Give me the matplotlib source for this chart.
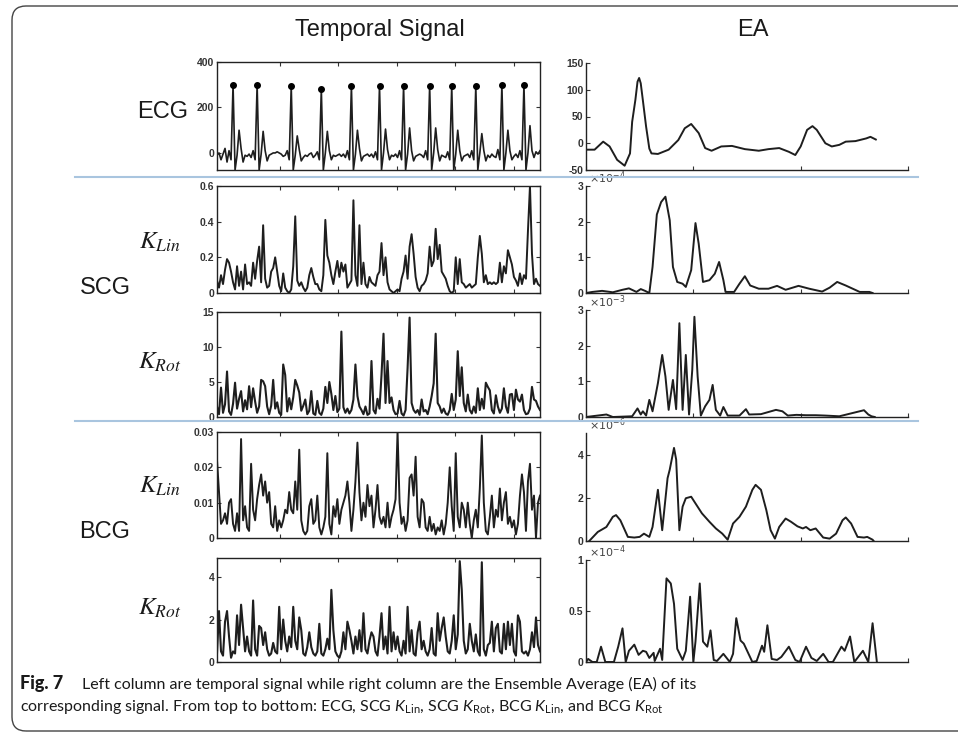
import matplotlib
matplotlib.use("Agg")
import matplotlib.pyplot as plt
import numpy as np
from matplotlib.patches import FancyBboxPatch
from matplotlib.lines import Line2D
from matplotlib.ticker import FormatStrFormatter

plt.rcParams['font.family'] = ['Liberation Sans', 'DejaVu Sans']
plt.rcParams['mathtext.fontset'] = 'custom'
plt.rcParams['mathtext.rm'] = 'Lato'
plt.rcParams['mathtext.it'] = 'Lato:italic'

# ---- temporal signals (uniform samples) ----
ecg = [-10, 0, -30, -5, 20, -40, 10, -30,
       300, -75, -10, 100, 20, -40, -10, -15, -5, -20, 10, -30,
       300, -75, -5, 95, 10, -35, -10, -5, 0, 0, 5, 0, -5, -15, -10, 10, -30,
       295, -75, -10, 75, 15, -35, -20, -10, -15, -5, 0, -20, -10, 5, -30,
       280, -75, 0, 95, 10, -30, -10, -15, -10, -5, -15, -5, -20, 10, -30,
       295, -75, -5, 100, 20, -35, -15, -10, -5, -15, -5, -20, 5, -30,
       295, -75, 0, 105, 15, -30, -10, -15, -5, -20, 10, -30,
       295, -75, -5, 110, 10, -35, -15, -10, -5, -10, -20, 10, -30,
       295, -75, 0, 110, 15, -35, -10, -15, -20, 5, -30,
       295, -75, -5, 100, 10, -35, -15, -10, -5, -20, 10, -30,
       295, -75, 0, 85, 10, -35, -10, -20, -5, -15, -20, 15, -30,
       300, -75, 0, 100, 10, -30, -15, -5, -20, 10, -30,
       300, -75, 0, 120, 10, -20, 5, -5, 10]
ecg_r_peaks = [8, 20, 37, 52, 67, 81, 93, 106, 117, 129, 142, 153]

scg_lin = [0.07, 0.03, 0.10, 0.05, 0.13, 0.19, 0.17, 0.12, 0.06, 0.02,
           0.15, 0.04, 0.12, 0.02, 0.16, 0.05, 0.06, 0.04, 0.17, 0.08,
           0.18, 0.26, 0.06, 0.38, 0.08, 0.03, 0.04, 0.12, 0.14, 0.20,
           0.12, 0.04, 0.01, 0.11, 0.03, 0.01, 0.00, 0.02, 0.15, 0.43,
           0.07, 0.04, 0.06, 0.03, 0.01, 0.03, 0.10, 0.14, 0.09, 0.05,
           0.05, 0.02, 0.01, 0.10, 0.41, 0.21, 0.17, 0.10, 0.05, 0.12,
           0.18, 0.09, 0.17, 0.12, 0.16, 0.03, 0.05, 0.07, 0.52, 0.10,
           0.04, 0.38, 0.05, 0.17, 0.05, 0.03, 0.09, 0.06, 0.05, 0.04,
           0.10, 0.12, 0.28, 0.10, 0.20, 0.06, 0.02, 0.01, 0.00, 0.01,
           0.02, 0.01, 0.08, 0.12, 0.21, 0.08, 0.26, 0.33, 0.22, 0.09,
           0.03, 0.01, 0.04, 0.05, 0.07, 0.11, 0.26, 0.15, 0.18, 0.36,
           0.19, 0.27, 0.12, 0.10, 0.08, 0.04, 0.01, 0.00, 0.01, 0.20,
           0.05, 0.19, 0.06, 0.05, 0.03, 0.04, 0.05, 0.03, 0.04, 0.05,
           0.20, 0.32, 0.22, 0.06, 0.10, 0.05, 0.06, 0.05, 0.06, 0.05,
           0.06, 0.17, 0.06, 0.15, 0.11, 0.24, 0.20, 0.16, 0.09, 0.07,
           0.04, 0.11, 0.05, 0.10, 0.08, 0.35, 0.60, 0.22, 0.05, 0.08,
           0.05, 0.04]

scg_rot = [1.5, 0.4, 4.2, 0.6, 1.8, 6.5, 0.8, 0.3, 1.9, 4.9,
           1.2, 2.6, 3.7, 0.8, 2.4, 1.1, 4.4, 1.4, 4.1, 2.2,
           0.6, 1.5, 5.3, 5.1, 4.4, 1.5, 0.4, 1.6, 5.3, 1.2,
           2.1, 0.6, 0.3, 7.5, 6.0, 0.8, 2.7, 1.1, 2.8, 5.3,
           4.5, 3.5, 0.9, 1.6, 2.5, 0.4, 0.9, 3.7, 0.5, 0.3,
           2.3, 0.6, 0.3, 1.2, 4.3, 2.0, 5.0, 3.3, 1.0, 3.0,
           0.7, 1.2, 12.2, 1.4, 0.6, 1.2, 0.5, 1.0, 2.5, 7.5,
           3.0, 1.5, 1.0, 0.4, 1.5, 0.3, 0.5, 8.0, 1.0, 0.5,
           2.6, 1.2, 6.0, 11.9, 2.0, 8.0, 2.0, 2.8, 1.0, 0.4,
           0.5, 2.3, 0.5, 0.2, 1.0, 7.0, 14.2, 2.0, 1.0, 0.6,
           1.0, 0.3, 2.5, 0.8, 1.0, 0.4, 1.5, 3.0, 4.8, 11.9,
           2.0, 1.5, 0.6, 1.2, 0.5, 0.3, 1.0, 3.3, 1.0, 2.5,
           9.4, 3.0, 7.1, 2.0, 0.8, 3.2, 1.0, 0.5, 1.5, 0.6,
           4.1, 1.0, 2.6, 1.2, 4.9, 4.3, 3.8, 1.0, 0.5, 3.1,
           1.5, 0.6, 1.2, 4.1, 1.5, 0.6, 3.2, 3.3, 1.0, 3.9,
           2.5, 2.2, 3.2, 1.0, 0.4, 0.5, 1.2, 4.3, 2.5, 2.3,
           1.5, 1.0]

bcg_lin = [0.022, 0.013, 0.004, 0.005, 0.007, 0.004, 0.010, 0.011, 0.004, 0.002,
           0.007, 0.002, 0.028, 0.005, 0.009, 0.003, 0.002, 0.021, 0.008, 0.005,
           0.011, 0.015, 0.018, 0.012, 0.016, 0.010, 0.013, 0.004, 0.003, 0.009,
           0.002, 0.005, 0.003, 0.005, 0.008, 0.007, 0.013, 0.008, 0.007, 0.016,
           0.008, 0.025, 0.005, 0.002, 0.001, 0.002, 0.009, 0.011, 0.004, 0.005,
           0.012, 0.003, 0.001, 0.003, 0.006, 0.024, 0.004, 0.001, 0.009, 0.006,
           0.011, 0.004, 0.008, 0.010, 0.012, 0.016, 0.010, 0.002, 0.008, 0.016,
           0.027, 0.013, 0.005, 0.010, 0.006, 0.015, 0.009, 0.012, 0.003, 0.008,
           0.015, 0.006, 0.004, 0.006, 0.003, 0.010, 0.003, 0.006, 0.008, 0.011,
           0.030, 0.010, 0.004, 0.006, 0.002, 0.005, 0.017, 0.018, 0.012, 0.023,
           0.006, 0.003, 0.011, 0.010, 0.003, 0.002, 0.006, 0.002, 0.004, 0.001,
           0.003, 0.002, 0.005, 0.001, 0.004, 0.010, 0.020, 0.009, 0.002, 0.024,
           0.006, 0.003, 0.010, 0.008, 0.003, 0.010, 0.004, 0.000, 0.005, 0.008,
           0.003, 0.014, 0.029, 0.010, 0.002, 0.001, 0.006, 0.012, 0.003, 0.008,
           0.006, 0.014, 0.005, 0.010, 0.013, 0.004, 0.006, 0.003, 0.005, 0.001,
           0.004, 0.012, 0.018, 0.013, 0.002, 0.016, 0.021, 0.008, 0.012, 0.000,
           0.010, 0.012]

bcg_rot = [0.4, 2.4, 0.5, 0.3, 1.9, 2.4, 1.2, 0.2, 0.5, 0.4,
           2.2, 0.8, 2.7, 1.6, 0.5, 1.2, 0.5, 0.3, 2.9, 0.6,
           0.3, 1.7, 1.6, 0.8, 1.4, 0.6, 0.3, 0.4, 0.9, 0.5,
           0.4, 2.6, 0.6, 2.0, 1.0, 0.5, 1.2, 0.7, 2.6, 1.0,
           0.6, 2.1, 1.5, 0.4, 0.3, 0.7, 1.4, 0.7, 0.4, 0.3,
           0.5, 1.8, 0.4, 0.3, 0.6, 1.1, 0.6, 3.4, 1.5, 0.5,
           0.3, 0.2, 0.5, 1.4, 0.6, 1.9, 1.5, 1.0, 0.4, 1.2,
           0.6, 1.5, 0.5, 2.3, 0.6, 0.4, 1.0, 1.4, 1.2, 0.5,
           0.3, 1.2, 2.3, 0.6, 1.2, 0.4, 2.6, 0.5, 1.4, 0.6,
           1.2, 0.5, 0.3, 1.0, 0.4, 2.6, 0.5, 1.5, 0.4, 0.3,
           1.4, 1.9, 0.6, 1.0, 0.5, 0.3, 0.6, 1.6, 0.4, 0.3,
           2.3, 1.0, 1.6, 2.1, 1.2, 0.5, 0.4, 1.0, 2.2, 0.6,
           1.3, 4.75, 3.4, 1.0, 0.4, 0.6, 1.8, 1.0, 0.5, 1.3,
           0.5, 0.3, 4.7, 0.6, 0.3, 0.8, 0.9, 1.9, 0.5, 1.6,
           1.8, 0.5, 0.4, 1.8, 0.6, 1.9, 0.8, 1.8, 0.5, 0.3,
           2.2, 1.9, 0.5, 0.4, 0.5, 0.3, 0.6, 1.4, 0.7, 2.1,
           0.8, 0.5]

# ---- ensemble averages (time points) ----
ea_ecg_t = [0, 8, 16, 22, 29, 36, 41, 43, 46, 48, 49.5, 51, 53, 56, 59, 61, 67, 77, 86, 92,
            98, 105, 111, 117, 126, 136, 148, 161, 170, 180, 189, 195, 200, 206, 211, 215,
            223, 229, 236, 242, 251, 261, 265, 270]
ea_ecg_v = [-12, -12, 3, -6, -31, -42, -19, 40, 81, 115, 122, 112, 80, 31, -10, -19, -20, -12, 6, 28,
            36, 19, -9, -14, -6, -5, -11, -14, -11, -9, -16, -22, -6, 25, 32, 25,
            0, -6, -3, 3, 4, 9, 12, 7]

ea_scg_lin_t = [0, 6, 15, 25, 34, 40, 47, 51, 55, 59, 62, 66, 70, 74, 78, 81, 85, 90, 93,
                98, 102, 105, 109, 115, 120, 124, 128, 130, 138, 143, 148, 153, 161, 170,
                178, 186, 198, 208, 220, 227, 234, 242, 255, 264, 267]
ea_scg_lin_v = [0, 0.03, 0.06, 0.02, 0.09, 0.13, 0.03, 0.11, 0.06, 0.0, 0.73, 2.2, 2.55, 2.7, 2.04,
                0.73, 0.31, 0.26, 0.17, 0.64, 1.96, 1.38, 0.31, 0.36, 0.54, 0.87, 0.36, 0.03,
                0.03, 0.26, 0.47, 0.21, 0.12, 0.12, 0.2, 0.09, 0.2, 0.12, 0.04, 0.15, 0.31,
                0.21, 0.03, 0.03, 0.0]

ea_scg_rot_t = [0, 19, 25, 43, 48, 51, 53, 56, 59, 62, 67, 71, 74, 77, 81, 84, 87, 90, 93, 96,
                99, 101, 104, 107, 111, 115, 118, 121, 125, 128, 132, 143, 149, 152, 163, 177,
                183, 188, 196, 205, 214, 223, 236, 259, 263, 266, 269]
ea_scg_rot_v = [0, 0.07, 0, 0.02, 0.24, 0.07, 0.16, 0.04, 0.48, 0.16, 0.95, 1.74, 1.14, 0.2, 1.04,
                0.22, 2.63, 0.2, 1.74, 0.07, 1.32, 2.81, 1.14, 0.04, 0.3, 0.48, 0.9, 0.2, 0.04,
                0.28, 0.04, 0.04, 0.22, 0.07, 0.08, 0.2, 0.16, 0.04, 0.06, 0.05, 0.05, 0.04,
                0.02, 0.19, 0.07, 0.02, 0]

ea_bcg_lin_t = [3, 11, 19, 25, 28, 32, 39, 45, 50, 54, 59, 62, 67, 71, 76, 78, 82, 84, 87, 90,
                93, 98, 102, 108, 115, 121, 127, 132, 137, 143, 149, 155, 158, 163, 168, 172,
                176, 180, 186, 191, 197, 202, 205, 209, 214, 221, 227, 233, 239, 242, 247, 253,
                259, 262, 267, 268]
ea_bcg_lin_v = [0, 0.42, 0.65, 1.12, 1.2, 0.96, 0.19, 0.16, 0.19, 0.34, 0.19, 0.65, 2.37, 0.5, 2.91,
                3.3, 4.31, 3.77, 0.5, 1.59, 1.98, 2.05, 1.74, 1.28, 0.89, 0.58, 0.34, 0.06, 0.81,
                1.12, 1.59, 2.37, 2.6, 2.37, 1.43, 0.5, 0.11, 0.65, 1.04, 0.89, 0.68, 0.58, 0.65,
                0.5, 0.58, 0.16, 0.11, 0.34, 0.96, 1.09, 0.81, 0.19, 0.16, 0.19, 0.06, 0]

ea_bcg_rot_t = [0, 2, 6, 10, 14, 18, 26, 30, 34, 37, 40, 45, 49, 53, 56, 59, 63, 64, 69, 71, 75,
                79, 82, 85, 90, 93, 97, 100, 102, 106, 109, 113, 116, 119, 122, 128, 134, 137,
                140, 144, 147, 155, 159, 164, 166, 169, 173, 178, 182, 189, 195, 199, 205,
                210, 215, 221, 226, 230, 238, 241, 246, 250, 258, 263, 267, 271]
ea_bcg_rot_v = [0, 0.03, 0, 0, 0.15, 0, 0, 0.15, 0.33, 0, 0.11, 0.17, 0.07, 0.11, 0.1, 0.04, 0.09,
                0.01, 0.13, 0.02, 0.82, 0.77, 0.57, 0.13, 0.02, 0.11, 0.64, 0, 0.2, 0.77, 0.2,
                0.15, 0.31, 0.02, 0.01, 0.08, 0.0, 0.08, 0.43, 0.21, 0.18, 0, 0.01, 0.16, 0.1,
                0.36, 0.03, 0.02, 0.05, 0.15, 0.02, 0, 0.15, 0.04, 0.01, 0.08, 0, 0, 0.15, 0.11,
                0.25, 0, 0.11, 0, 0.38, 0]

W, H = 958, 735
fig = plt.figure(figsize=(W / 100, H / 100), dpi=100)

def px_axes(x0, y0, x1, y1):
    return fig.add_axes([x0 / W, 1 - y1 / H, (x1 - x0) / W, (y1 - y0) / H])

line_col = '#1e1e1e'
tick_col = '#333333'

def style_left(ax, data, ylim, yticks, fmt='%g'):
    n = len(data)
    ax.set_xlim(0, n - 1)
    ax.set_ylim(*ylim)
    ax.set_yticks(yticks)
    ax.yaxis.set_major_formatter(FormatStrFormatter(fmt))
    ax.set_xticks(np.array([0.195, 0.375, 0.558, 0.738, 0.918]) * (n - 1))
    ax.set_xticklabels([])
    ax.tick_params(direction='in', top=True, right=True, length=3, width=0.8,
                   labelsize=7.5, colors=tick_col, pad=2)
    for s in ax.spines.values():
        s.set_linewidth(1.0)
        s.set_color('#222222')
    for lbl in ax.get_yticklabels():
        lbl.set_fontweight('bold')

def style_right(ax, ylim, yticks, expo=None):
    ax.set_xlim(0, 300)
    ax.set_ylim(*ylim)
    ax.set_yticks(yticks)
    ax.yaxis.set_major_formatter(FormatStrFormatter('%g'))
    ax.set_xticks([0, 100, 200, 300])
    ax.set_xticklabels([])
    ax.spines['top'].set_visible(False)
    ax.spines['right'].set_visible(False)
    for s in ('left', 'bottom'):
        ax.spines[s].set_linewidth(1.0)
        ax.spines[s].set_color('#222222')
    ax.tick_params(direction='in', length=3, width=0.8, labelsize=7.5,
                   colors=tick_col, pad=2)
    for lbl in ax.get_yticklabels():
        lbl.set_fontweight('bold')
    if expo is not None:
        ax.text(0.01, 1.0, r'$\times10^{%d}$' % expo, transform=ax.transAxes,
                fontsize=8, color='#444444', ha='left', va='bottom',
                math_fontfamily='dejavusans')

# ---- left column ----
ax = px_axes(217, 62, 540, 170)
ax.plot(ecg, color=line_col, lw=1.2)
ax.plot(ecg_r_peaks, [ecg[i] for i in ecg_r_peaks], 'o', color='black', ms=4)
style_left(ax, ecg, (-75, 400), [0, 200, 400])

ax = px_axes(217, 186, 540, 293)
ax.plot(scg_lin, color=line_col, lw=1.4)
style_left(ax, scg_lin, (0, 0.6), [0, 0.2, 0.4, 0.6])

ax = px_axes(217, 312, 540, 417)
ax.plot(scg_rot, color=line_col, lw=1.5)
style_left(ax, scg_rot, (0, 15), [0, 5, 10, 15])

ax = px_axes(217, 432, 540, 538)
ax.plot(bcg_lin, color=line_col, lw=1.4)
style_left(ax, bcg_lin, (0, 0.03), [0, 0.01, 0.02, 0.03])

ax = px_axes(217, 558, 540, 662)
ax.plot(bcg_rot, color=line_col, lw=1.5)
style_left(ax, bcg_rot, (0, 4.9), [0, 2, 4])

# ---- right column ----
ax = px_axes(586, 63, 908, 170)
ax.plot(ea_ecg_t, ea_ecg_v, color=line_col, lw=1.4)
style_right(ax, (-50, 150), [-50, 0, 50, 100, 150])

ax = px_axes(586, 186, 908, 293)
ax.plot(ea_scg_lin_t, ea_scg_lin_v, color=line_col, lw=1.4)
style_right(ax, (0, 3), [0, 1, 2, 3], -4)

ax = px_axes(586, 310, 908, 417)
ax.plot(ea_scg_rot_t, ea_scg_rot_v, color=line_col, lw=1.4)
style_right(ax, (0, 3), [0, 1, 2, 3], -3)

ax = px_axes(586, 433, 908, 541)
ax.plot(ea_bcg_lin_t, ea_bcg_lin_v, color=line_col, lw=1.4)
style_right(ax, (0, 5), [0, 2, 4], -6)

ax = px_axes(586, 560, 908, 662)
ax.plot(ea_bcg_rot_t, ea_bcg_rot_v, color=line_col, lw=1.4)
style_right(ax, (0, 1), [0, 0.5, 1], -4)

# ---- titles and row labels ----
fig.text(380 / W, 1 - 30 / H, 'Temporal Signal', fontsize=17, ha='center', va='center', color='#1a1a1a')
fig.text(753 / W, 1 - 30 / H, 'EA', fontsize=17, ha='center', va='center', color='#1a1a1a')
fig.text(188 / W, 1 - 112 / H, 'ECG', fontsize=17, ha='right', va='center', color='#1a1a1a')
fig.text(105 / W, 1 - 288 / H, 'SCG', fontsize=17, ha='center', va='center', color='#1a1a1a')
fig.text(105 / W, 1 - 532 / H, 'BCG', fontsize=17, ha='center', va='center', color='#1a1a1a')
for ytxt, lab in [(242, r'$K_{Lin}$'), (362, r'$K_{Rot}$'), (486, r'$K_{Lin}$'), (608, r'$K_{Rot}$')]:
    fig.text(160 / W, 1 - ytxt / H, lab, fontsize=18, ha='center', va='center',
             color='#1a1a1a', math_fontfamily='stix')

# separators
for yl in (177, 421):
    fig.add_artist(Line2D([75 / W, 918 / W], [1 - yl / H, 1 - yl / H], color='#a9c5df', lw=1.5))

# frame
frame = FancyBboxPatch((0.12, 0.04), 9.8, 7.25, boxstyle='round,pad=0,rounding_size=0.14',
                       transform=fig.dpi_scale_trans, fill=False, ec='#444444', lw=1.0)
fig.add_artist(frame)

# caption
cap_font = ['Lato', 'DejaVu Sans']
fig.text(20 / W, 1 - 684 / H, 'Fig. 7', fontsize=13, fontweight='black', family=cap_font,
         va='center', color='#1a1a1a')
fig.text(82 / W, 1 - 684 / H,
         'Left column are temporal signal while right column are the Ensemble Average (EA) of its',
         fontsize=11.5, family=cap_font, va='center', color='#1a1a1a')
fig.text(20 / W, 1 - 707 / H,
         r'corresponding signal. From top to bottom: ECG, SCG $K_{\mathrm{Lin}}$, SCG $K_{\mathrm{Rot}}$, '
         r'BCG $K_{\mathrm{Lin}}$, and BCG $K_{\mathrm{Rot}}$',
         fontsize=11.5, family=cap_font, va='center', color='#1a1a1a')

fig.savefig('out.png', dpi=100)
